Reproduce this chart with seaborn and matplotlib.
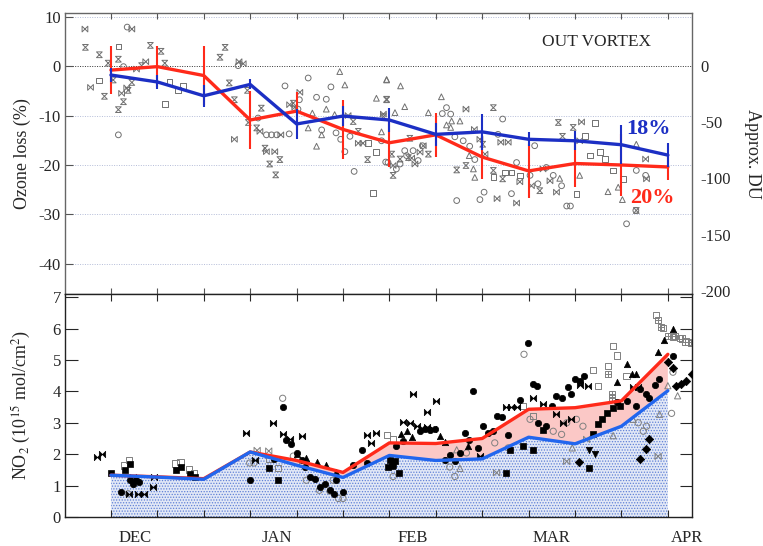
import numpy as np
import matplotlib
matplotlib.use("Agg")
import matplotlib.pyplot as plt
from matplotlib.path import Path
import seaborn as sns

sns.set_theme(style="white")
plt.rcParams['font.family'] = ['Liberation Serif', 'DejaVu Serif']
plt.rcParams['mathtext.fontset'] = 'stix'
plt.rcParams['hatch.linewidth'] = 0.6

# ---------------- data ----------------
days = [0, 10, 20, 30, 40, 50, 60, 70, 80, 90, 100, 110, 120]
month_names = ["DEC", "JAN", "FEB", "MAR", "APR"]
month_pos = [5.2, 35.8, 65.1, 95.0, 124.1]

red_loss = [-0.8, -0.1, -1.9, -10.9, -9.1, -12.8, -15.5, -13.9, -18.4, -21.2, -19.7, -20.0, -20.4]
red_err = [4.9, 4.2, 5.9, 5.9, 3.8, 5.9, 5.0, 4.4, 4.5, 5.5, 4.7, 6.2, 2.7]
blue_loss = [-1.8, -3.2, -6.0, -3.7, -11.7, -10.1, -10.9, -13.8, -13.3, -14.8, -15.1, -15.9, -18.0]
blue_err = [1.45, 1.4, 2.25, 1.0, 3.0, 2.0, 2.5, 2.3, 3.7, 1.4, 1.9, 3.9, 2.5]

# top panel individual measurements (grey open symbols)
top_hg_x = [-5.5, -2.5, -1.4, -0.6, 0.5, 1.6, 1.6, 2.7, 3.7, 4.5, 6.6, 8.5, 10.8, 11.6, 23.5, 24.6, 25.5, 26.6,
            29.4, 29.6, 32.4, 31.4, 33.2, 34.2, 35.5, 36.4, 39.3, 52.2, 53.3, 55.3, 58.7, 59.4, 59.4, 60.5, 60.8,
            62.3, 64.1, 64.4, 68.4, 82.4, 74.5, 76.5, 80.1, 82.4, 84.4, 92.4, 96.4, 97.3, 99.6, 113.2]
top_hg_y = [3.8, 2.3, -6.1, 0.6, -2.8, 1.4, -8.8, -7.2, -4.9, -3.3, 0.1, 4.2, 3.0, 0.6, 1.8, 3.8, -3.4, -6.8,
            -4.9, -11.4, -8.5, -12.5, -16.6, -19.8, -22.0, -18.9, -7.5, -11.2, -13.2, -18.9, -10.2, -6.8, -6.7, -17.8, -22.1,
            -18.8, -18.5, -14.6, -17.8, -8.4, -21.0, -20.1, -15.8, -21.1, -22.8, -25.2, -11.4, -14.2, -12.4, -29.2]
top_bt_x = [-5.6, -4.4, 2.3, 3.4, 4.5, 5.5, 7.5, 27.6, 28.5, 26.6, 32.1, 33.5, 35.3, 36.6, 38.5, 39.6, 40.7,
            51.1, 53.3, 54.3, 58.7, 60.8, 64.8, 65.5, 66.6, 67.3, 76.5, 78.3, 79.5, 80.6, 83.2, 87.4, 84.0, 85.6,
            88.1, 90.6, 93.1, 94.6, 96.0, 101.4, 101.0, 115.2, 115.4]
top_bt_y = [7.5, -4.3, -5.5, -4.4, 7.5, -0.6, 0.9, 0.9, 0.5, -14.8, -13.2, -17.3, -17.3, -13.9, -7.8, -8.3, -5.3,
            -10.0, -15.6, -15.6, -9.7, -20.1, -18.6, -19.8, -17.4, -16.1, -8.7, -12.8, -14.8, -17.8, -26.8, -27.7, -15.4, -15.4,
            -23.4, -24.2, -20.8, -23.2, -25.5, -11.3, -15.1, -18.8, -22.8]
top_ci_x = [2.7, 1.6, 3.5, 27.4, 31.7, 33.5, 34.6, 35.7, 37.5, 38.4, 40.6, 40.3, 42.5, 44.3, 46.4, 47.4, 45.4,
            48.5, 49.5, 50.4, 51.5, 52.4, 59.2, 58.3, 59.7, 61.5, 62.3, 63.3, 63.7, 65.1, 66.2, 67.1, 72.3, 73.2,
            71.4, 84.4, 74.1, 75.9, 77.3, 78.4, 74.5, 79.5, 80.4, 86.3, 83.4, 87.4, 90.3, 91.3, 92.0, 93.8, 95.3,
            97.1, 98.2, 99.0, 111.1, 113.1, 113.2, 115.2]
top_ci_y = [-0.1, -13.9, 7.9, 0.1, -10.5, -13.9, -13.9, -13.9, -4.0, -13.7, -6.8, -8.7, -2.4, -6.3, -6.7, -4.2, -12.9,
            -13.5, -14.8, -17.3, -14.2, -21.3, -19.4, -15.1, -19.5, -20.8, -19.8, -17.1, -18.1, -17.1, -19.1, -16.1, -8.4, -9.7,
            -9.6, -10.7, -14.3, -15.1, -16.2, -18.9, -27.2, -27.0, -25.5, -25.8, -13.8, -19.5, -22.1, -16.1, -23.8, -20.5, -22.1,
            -24.2, -28.3, -28.3, -31.9, -29.2, -21.1, -22.1]
top_sq_x = [-2.5, 1.6, 12.6, 11.6, 14.5, 15.6, 55.4, 56.4, 57.1, 82.4, 84.9, 86.3, 88.1, 104.3, 102.1, 103.2,
            105.3, 106.4, 100.3, 108.2, 110.4]
top_sq_y = [-2.9, 4.0, -3.2, -7.7, -4.9, -4.0, -15.6, -25.7, -17.3, -22.5, -21.5, -21.5, -22.1, -11.5, -14.2, -18.1,
            -17.3, -18.8, -25.8, -21.1, -22.8]
top_tr_x = [43.4, 42.5, 44.3, 45.4, 46.4, 48.2, 49.3, 50.4, 57.2, 59.4, 58.3, 59.4, 62.4, 63.3, 61.2, 68.4, 71.2,
            72.3, 73.4, 75.2, 73.2, 77.2, 78.1, 78.4, 96.7, 101.0, 107.1, 109.3, 110.2, 113.2]
top_tr_y = [-9.5, -12.5, -16.2, -13.9, -8.7, -9.8, -1.1, -3.8, -6.5, -2.8, -13.3, -2.7, -4.0, -8.2, -9.4, -9.4, -6.2,
            -11.9, -11.1, -11.1, -12.4, -18.1, -20.8, -22.5, -22.7, -22.1, -25.4, -24.5, -27.0, -15.8]

no2_blue = [1.33, 1.27, 1.20, 2.07, 1.65, 1.26, 1.96, 1.80, 1.85, 2.54, 2.33, 2.89, 4.02]
no2_red = [1.33, 1.28, 1.22, 2.07, 1.80, 1.42, 2.36, 2.34, 2.50, 3.43, 3.48, 3.70, 5.18]

# bottom panel individual measurements
b_fc_x = [2.1, 4.2, 4.8, 5.5, 6.1, 29.9, 35.1, 37.0, 37.8, 38.9, 40.0, 41.1, 41.8, 42.9, 43.9, 45.0, 46.1, 47.2,
          48.1, 49.9, 48.6, 54.0, 55.1, 52.2, 61.5, 63.0, 66.6, 67.6, 68.7, 69.8, 72.0, 73.0, 74.1, 75.2, 76.3,
          77.2, 78.1, 79.1, 80.2, 81.3, 82.4, 83.1, 84.2, 85.6, 88.1, 89.9, 91.0, 91.7, 92.0, 93.8, 95.1, 96.0,
          97.1, 98.5, 100.0, 101.0, 101.9, 99.2, 109.1, 111.1, 113.1, 114.1, 115.2, 116.0, 117.2, 118.1, 121.1]
b_fc_y = [0.80, 1.17, 1.04, 1.19, 1.12, 1.17, 1.86, 3.49, 2.45, 2.34, 2.04, 1.81, 1.60, 1.26, 1.22, 0.96, 1.04, 0.87,
          0.74, 0.80, 1.17, 2.13, 1.73, 1.65, 2.25, 2.41, 2.73, 2.81, 2.77, 2.81, 1.82, 1.98, 1.77, 2.04, 2.66,
          2.44, 4.01, 2.20, 2.89, 2.66, 2.73, 3.22, 3.19, 2.60, 3.73, 5.54, 4.25, 4.18, 3.00, 2.89, 3.54, 3.86,
          3.80, 4.13, 4.39, 4.34, 4.50, 3.91, 3.67, 3.70, 3.52, 4.09, 3.91, 3.80, 4.20, 4.39, 5.14]
b_fs_x = [0.0, 3.0, 4.1, 14.1, 15.2, 17.0, 18.1, 34.1, 36.0, 59.7, 60.1, 60.7, 61.2, 60.5, 62.1, 85.2, 85.9,
          91.0, 93.0, 88.8, 103.0, 103.9, 105.0, 105.9, 106.9, 108.2, 109.6]
b_fs_y = [1.40, 1.49, 1.70, 1.51, 1.60, 1.38, 1.28, 1.57, 1.19, 1.60, 1.82, 1.66, 1.77, 1.61, 1.41, 1.41, 2.12,
          2.12, 2.77, 2.25, 1.55, 2.63, 2.95, 3.11, 3.30, 3.48, 3.54]
b_fb_x = [-3.1, -2.0, 4.8, 3.9, 5.9, 7.1, 9.0, 9.3, 29.0, 31.0, 35.0, 37.0, 38.5, 41.1, 55.1, 57.1, 56.1, 63.0,
          64.4, 66.0, 67.1, 68.0, 69.3, 65.0, 70.0, 68.1, 79.5, 85.2, 86.3, 87.4, 91.0, 93.1, 95.9, 97.3, 99.2,
          101.0, 102.8, 112.5, 113.6]
b_fb_y = [1.91, 2.00, 1.26, 0.74, 0.74, 0.74, 0.94, 1.28, 2.66, 1.81, 2.98, 2.63, 2.47, 2.57, 2.61, 2.68, 2.36, 3.02,
          2.98, 2.89, 2.84, 2.87, 2.81, 3.91, 3.70, 3.34, 1.93, 3.50, 3.50, 3.50, 3.78, 3.59, 3.27, 2.98, 3.11,
          4.20, 4.18, 4.13, 4.15]
b_ft_x = [40.0, 42.1, 44.3, 46.4, 48.6, 62.6, 63.7, 64.8, 70.9, 72.0, 77.0, 109.1, 111.1, 112.2, 113.1, 117.9, 119.1, 121.1]
b_ft_y = [2.02, 1.89, 1.76, 1.65, 1.44, 2.63, 2.73, 2.55, 2.57, 2.38, 2.25, 4.29, 4.88, 4.56, 4.56, 5.25, 5.63, 6.00]
b_fv_x = [103.0, 104.2]
b_fv_y = [2.12, 2.02]
b_fd_x = [100.9, 113.9, 115.2, 116.0, 120.0, 121.0, 125.1, 124.0, 122.9, 121.8]
b_fd_y = [1.74, 1.84, 2.16, 2.49, 4.95, 4.74, 4.56, 4.34, 4.23, 4.16]
b_oc_x = [3.7, 5.0, 29.9, 30.8, 37.0, 39.3, 41.3, 42.1, 44.9, 47.2, 49.0, 50.0, 47.9, 60.8, 74.1, 73.0, 82.7, 89.0,
          90.3, 95.3, 97.1, 98.2, 100.3, 101.7, 113.6, 114.7, 115.4, 120.8, 121.1, 85.6, 76.6]
b_oc_y = [0.74, 1.04, 1.72, 1.72, 3.78, 1.94, 1.68, 1.17, 0.85, 0.82, 0.59, 0.59, 1.17, 1.29, 1.29, 1.59, 2.36, 5.18,
          3.11, 2.73, 2.63, 3.00, 3.11, 2.89, 3.00, 2.73, 2.89, 3.30, 4.61, 2.20, 2.04]
b_os_x = [2.8, 3.9, 13.9, 15.0, 16.9, 17.9, 34.1, 36.0, 59.5, 60.8, 91.0, 88.8, 105.0, 103.9, 107.1, 108.1,
          109.1, 111.1, 117.5, 119.0, 121.1, 122.6, 123.8, 125.0]
b_os_y = [1.64, 1.81, 1.70, 1.76, 1.51, 1.40, 1.86, 1.57, 2.61, 2.49, 3.22, 3.54, 4.16, 4.69, 4.82, 5.44,
          5.14, 4.48, 6.43, 6.02, 5.73, 5.70, 5.59, 5.54]
b_ps_x = [107.1, 108.0, 108.0, 117.9, 118.6, 120.0, 121.5, 123.0, 124.4]
b_ps_y = [4.56, 3.91, 3.80, 6.27, 6.06, 5.77, 5.77, 5.68, 5.57]
b_ot_x = [75.2, 99.4, 108.2, 118.2, 122.1, 120.0, 112.5, 74.5]
b_ot_y = [1.55, 2.20, 2.59, 3.27, 3.86, 4.18, 3.11, 2.14]
b_ob_x = [117.9, 98.2, 83.1, 102.5, 31.5, 34.0]
b_ob_y = [1.93, 1.77, 1.41, 2.47, 2.12, 2.10]

# ---------------- markers ----------------
hourglass = Path([(-1, 1), (1, 1), (-1, -1), (1, -1), (-1, 1)],
                 [Path.MOVETO, Path.LINETO, Path.LINETO, Path.LINETO, Path.CLOSEPOLY])
bowtie = Path([(-1, 1), (-1, -1), (1, 1), (1, -1), (-1, 1)],
              [Path.MOVETO, Path.LINETO, Path.LINETO, Path.LINETO, Path.CLOSEPOLY])
plus_sq = Path([(-1, -1), (1, -1), (1, 1), (-1, 1), (-1, -1), (0, -1), (0, 1), (-1, 0), (1, 0)],
               [Path.MOVETO, Path.LINETO, Path.LINETO, Path.LINETO, Path.LINETO,
                Path.MOVETO, Path.LINETO, Path.MOVETO, Path.LINETO])

# ---------------- figure ----------------
W, H = 763, 546
fig = plt.figure(figsize=(W / 100, H / 100), dpi=100)
L, R = 65, 692
ax1 = fig.add_axes([L / W, 1 - 294 / H, (R - L) / W, (294 - 13) / H])
ax2 = fig.add_axes([L / W, 1 - 517 / H, (R - L) / W, (517 - 294) / H])
xlim = (-9.9, 125.2)

RED = '#ff2a1a'
BLUE_T = '#1c2fc4'
BLUE_B = '#2266ee'
GREY = '#707070'

# ---- top panel ----
ax1.set_xlim(*xlim)
ax1.set_ylim(-46.1, 10.75)
for g in [10, -10, -20, -30, -40]:
    ax1.axhline(g, color='#b4bcd8', lw=0.7, ls=(0, (1, 1.5)), zorder=0)
ax1.axhline(0, color='#333333', lw=0.7, ls=(0, (1, 1.5)), zorder=0)

mk_kw = dict(facecolor='none', edgecolor=GREY, linewidth=0.7, s=17, ax=ax1, zorder=2)
sns.scatterplot(x=top_hg_x, y=top_hg_y, marker=hourglass, **mk_kw)
sns.scatterplot(x=top_bt_x, y=top_bt_y, marker=bowtie, **mk_kw)
sns.scatterplot(x=top_ci_x, y=top_ci_y, marker='o', **mk_kw)
sns.scatterplot(x=top_sq_x, y=top_sq_y, marker='s', **mk_kw)
sns.scatterplot(x=top_tr_x, y=top_tr_y, marker='^', **mk_kw)

ax1.errorbar(days, red_loss, yerr=red_err, fmt='none', ecolor=RED, elinewidth=1.5, capsize=0, zorder=3)
sns.lineplot(x=days, y=red_loss, color=RED, lw=2.4, ax=ax1, zorder=4)
ax1.errorbar(days, blue_loss, yerr=blue_err, fmt='none', ecolor=BLUE_T, elinewidth=1.5, capsize=0, zorder=5)
sns.lineplot(x=days, y=blue_loss, color=BLUE_T, lw=2.4, ax=ax1, zorder=6)

ax1.text(104.7, 4.9, 'OUT VORTEX', fontsize=12.5, ha='center', va='center')
ax1.text(115.9, -12.8, '18%', fontsize=16, fontweight='bold', color=BLUE_T, ha='center', va='center')
ax1.text(116.7, -26.6, '20%', fontsize=16, fontweight='bold', color=RED, ha='center', va='center')

ax1.set_xticks(days)
ax1.set_xticklabels([])
ax1.set_yticks([10, 0, -10, -20, -30, -40])
ax1.set_yticklabels(['10', '0', '-10', '-20', '-30', '-40'])
ax1.tick_params(axis='x', direction='in', length=4, width=0.8, top=True, bottom=True, color='#555555')
ax1.tick_params(axis='y', direction='in', length=6, width=0.8, left=True, right=False,
                labelsize=12, pad=3, color='#555555')
ax1.set_ylabel('Ozone loss (%)', fontsize=13)
ax1.yaxis.set_label_coords(-0.054, 0.5)
ax1.set_xlabel('')
for s in ax1.spines.values():
    s.set_color('#666666')
    s.set_linewidth(1.0)

ax1r = ax1.twinx()
f = 4.4
ax1r.set_ylim(ax1.get_ylim()[0] * f, ax1.get_ylim()[1] * f)
ax1r.set_yticks([0, -50, -100, -150, -200])
ax1r.set_yticklabels(['0', '-50', '-100', '-150', '-200'])
ax1r.tick_params(axis='y', length=0, labelsize=12, pad=6)
ax1r.set_ylabel('Approx. DU', fontsize=13, rotation=270)
ax1r.yaxis.set_label_coords(1.110, 0.5)
for s in ax1r.spines.values():
    s.set_visible(False)

# ---- bottom panel ----
ax2.set_xlim(*xlim)
ax2.set_ylim(0, 7.1)
ax2.fill_between(days, 0, no2_blue, facecolor='#e2e8f6', edgecolor='#5f80d6', hatch='......',
                 linewidth=0, zorder=0)
ax2.fill_between(days, no2_blue, no2_red, facecolor='#fbc8c6', edgecolor='none', linewidth=0, zorder=0.5)

bk = '#000000'
og = dict(facecolor='none', edgecolor='#808080', linewidth=0.7, s=20, ax=ax2, zorder=2)
fk = dict(color=bk, edgecolor=bk, linewidth=0.5, s=21, ax=ax2, zorder=3)
sns.scatterplot(x=b_oc_x, y=b_oc_y, marker='o', **og)
sns.scatterplot(x=b_os_x, y=b_os_y, marker='s', **og)
sns.scatterplot(x=b_ps_x, y=b_ps_y, marker=plus_sq, **og)
sns.scatterplot(x=b_ot_x, y=b_ot_y, marker='^', **og)
sns.scatterplot(x=b_ob_x, y=b_ob_y, marker=bowtie, **og)
sns.scatterplot(x=b_fc_x, y=b_fc_y, marker='o', **fk)
sns.scatterplot(x=b_fs_x, y=b_fs_y, marker='s', **fk)
sns.scatterplot(x=b_fb_x, y=b_fb_y, marker=bowtie, **fk)
sns.scatterplot(x=b_ft_x, y=b_ft_y, marker='^', **fk)
sns.scatterplot(x=b_fv_x, y=b_fv_y, marker='v', **fk)
sns.scatterplot(x=b_fd_x, y=b_fd_y, marker='D', **dict(fk, s=18))

sns.lineplot(x=days, y=no2_red, color=RED, lw=2.4, ax=ax2, zorder=4)
sns.lineplot(x=days, y=no2_blue, color=BLUE_B, lw=2.4, ax=ax2, zorder=5)

ax2.set_xticks(days)
ax2.set_xticklabels([])
ax2.set_xticks(month_pos, minor=True)
ax2.set_xticklabels(month_names, minor=True)
ax2.tick_params(axis='x', which='major', direction='in', length=5, width=0.8, top=True, bottom=True)
ax2.tick_params(axis='x', which='minor', length=0, labelsize=12, pad=9)
ax2.set_yticks(range(0, 8))
ax2.tick_params(axis='y', direction='in', length=9, width=0.8, left=True, right=True, labelsize=12, pad=3)
ax2.set_ylabel(r'NO$_2$ (10$^{15}$ mol/cm$^2$)', fontsize=13)
ax2.yaxis.set_label_coords(-0.051, 0.5)
ax2.set_xlabel('')
for s in ax2.spines.values():
    s.set_color('#222222')
    s.set_linewidth(1.0)

fig.savefig('out.png', dpi=100)
